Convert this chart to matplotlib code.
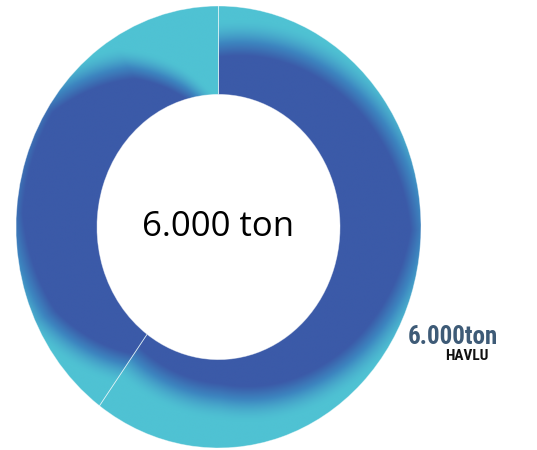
import numpy as np
import matplotlib.pyplot as plt
from matplotlib.colors import LinearSegmentedColormap

# --- data ---
shares = [60, 40]
center_text = "6.000 ton"
side_value = "6.000ton"
side_label = "HAVLU"

cyan = "#4fc2d3"
mid = "#3d86c0"
blue = "#3b5aa8"
ring_cmap = LinearSegmentedColormap.from_list("ring", [cyan, mid, blue, blue])

# darkness profile per slice: (fraction along slice, radial limit of dark core)
shade_pos = [
    [0.0, 0.2, 0.42, 0.65, 0.83, 1.0],
    [0.0, 0.2, 0.4, 0.6, 0.78, 0.9, 1.0],
]
shade_r0 = [
    [0.5, 0.7, 0.95, 0.6, 0.35, 0.25],
    [0.35, 0.8, 1.0, 1.0, 0.55, 0.05, -0.4],
]

narrow = ["Roboto Condensed", "Archivo Narrow", "Liberation Sans Narrow", "DejaVu Sans"]

fig = plt.figure(figsize=(5.37, 4.5), dpi=100)
ax = fig.add_axes([16 / 537, 2 / 450, 405 / 537, 442 / 450])

hole = 0.6
wedges, _ = ax.pie(shares, startangle=90, counterclock=False, radius=1,
                   colors=[cyan, cyan],
                   wedgeprops=dict(width=1 - hole, edgecolor="none"))

# gradient fill clipped to each slice
n = 700
xs = np.linspace(-1, 1, n)
X, Y = np.meshgrid(xs, xs)
rr = (np.hypot(X, Y) - hole) / (1 - hole)
theta_cw = (90 - np.degrees(np.arctan2(Y, X))) % 360

for w, pos, r0s in zip(wedges, shade_pos, shade_r0):
    start_cw = (90 - w.theta2) % 360
    span = w.theta2 - w.theta1
    s = ((theta_cw - start_cw) % 360) / span
    r0 = np.interp(np.clip(s, 0, 1), pos, r0s)
    t = np.clip((r0 - rr) / 0.7 + 0.5, 0, 1)
    t = t * t * (3 - 2 * t)
    im = ax.imshow(ring_cmap(t), extent=(-1, 1, -1, 1), origin="lower",
                   interpolation="bilinear", aspect="auto", zorder=2)
    im.set_clip_path(w)
    w.set_facecolor("none")
    w.set_edgecolor((1, 1, 1, 0.45))
    w.set_linewidth(0.6)
    w.set_zorder(3)

ax.set_aspect("auto")
ax.set_xlim(-1, 1)
ax.set_ylim(-1, 1)
ax.axis("off")

ax.text(0, 0, center_text, ha="center", va="center", fontsize=25,
        family=["Open Sans", "DejaVu Sans"], color="black", zorder=4)

fig.text(453 / 537, 1 - 337 / 450, side_value, ha="center", va="center",
         fontsize=18, fontweight="bold", color="#3e5b77", family=narrow)
fig.text(467 / 537, 1 - 356 / 450, side_label, ha="center", va="center",
         fontsize=11, fontweight="bold", color="#111111", family=narrow)

fig.savefig("out.png", dpi=100)
